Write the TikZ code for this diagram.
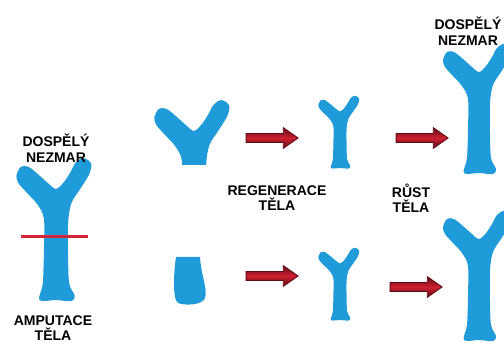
\documentclass[tikz,border=0pt]{standalone}
\usepackage{fontspec}
\setmainfont{Liberation Sans}
\usepackage{xcolor}
\usetikzlibrary{positioning,shapes.arrows}

\definecolor{hydrablue}{RGB}{30,155,216}
\definecolor{arrowred}{RGB}{205,32,48}
\definecolor{arrowdark}{RGB}{95,12,22}
\definecolor{cutred}{RGB}{212,36,56}

% one polyp, origin at the foot, arms up
\tikzset{
  pics/hydra/.style={code={
    \fill[hydrablue] plot[smooth cycle, tension=0.55] coordinates {
      (-15,0) (-12,15) (-11,45) (-11,74) (-17,87) (-26,97) (-34,106) (-36,113)
      (-32,121) (-25,121) (-16,114) (-7,106) (0,101) (7,107) (13,116) (18,125)
      (25,129) (32,124) (30,114) (22,101) (14,88) (11,70) (11,40) (12,15)
      (17,4) (14,-1) (0,0)};
  }}
}

\begin{document}
\begin{tikzpicture}[x=1pt, y=1pt,
    heading/.style={font=\bfseries\fontsize{14}{15.5}\selectfont, align=center, inner sep=0pt},
    blockarrow/.style={
        single arrow, draw=arrowdark, line width=0.8pt,
        top color=arrowdark, bottom color=arrowdark, middle color=arrowred,
        minimum height=52pt, inner sep=4pt,
        single arrow head extend=6pt, single arrow tip angle=70
    },
    cutline/.style={draw=cutred, line width=3pt}
]
    \useasboundingbox (0,0) rectangle (504,345);

    % polyps
    \coordinate (adult) at (56,45);
    \coordinate (head) at (194,103);
    \coordinate (young1) at (340,177);
    \coordinate (young2) at (340,25);
    \coordinate (grown1) at (479,172);
    \coordinate (grown2) at (479,5);

    \pic[scale=1.1] at (adult) {hydra};
    \begin{scope}
        \clip (140,180) rectangle (240,260);
        \pic[scale=1.1] at (head) {hydra};
    \end{scope}
    \pic[xscale=0.6, yscale=0.56] at (young1) {hydra};
    \pic[xscale=0.6, yscale=0.56] at (young2) {hydra};
    \pic at (grown1) {hydra};
    \pic at (grown2) {hydra};

    % lower stump
    \fill[hydrablue] (176,88) -- (200,88)
        .. controls (201,70) and (208,55) .. (205,47)
        .. controls (203,40) and (185,39) .. (178,42)
        .. controls (172,46) and (174,75) .. cycle;

    % cut
    \draw[cutline] (21,108) -- (88,108);

    % arrows
    \node[blockarrow] (regen1) at (269,207) {};
    \node[blockarrow] (grow1) at (419,207) {};
    \node[blockarrow] (regen2) at (269,69) {};
    \node[blockarrow] (grow2) at (413,58) {};

    % captions
    \node[heading] (adulttxt) at (56,197) {DOSPĚLÝ\\NEZMAR};
    \node[heading] (amptxt) at (53,17) {AMPUTACE\\TĚLA};
    \node[heading] (regtxt) at (277,147) {REGENERACE\\TĚLA};
    \node[heading] (growtxt) at (411,147) {RŮST\\TĚLA};
    \node[heading] (growntxt) at (468,314) {DOSPĚLÝ\\NEZMAR};
\end{tikzpicture}
\end{document}
